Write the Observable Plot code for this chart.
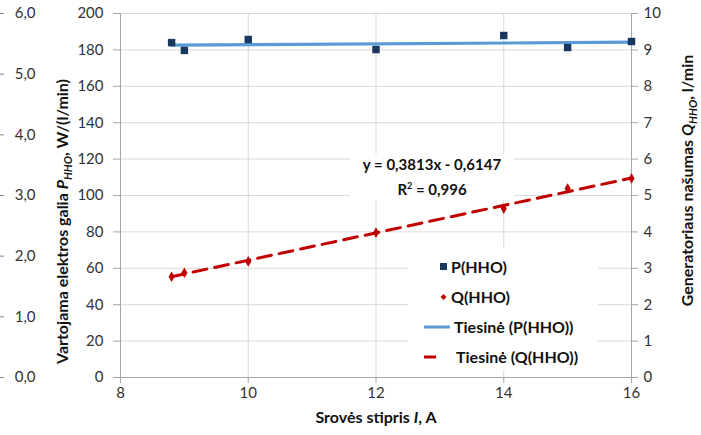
<!DOCTYPE html>
<html><head><meta charset="utf-8">
<script src="https://cdn.jsdelivr.net/npm/d3@7"></script>
<script src="https://cdn.jsdelivr.net/npm/@observablehq/plot@0.6"></script>
<style>
body{margin:0;background:#fff;font-family:Lato,"Open Sans",sans-serif;}
#wrap{position:relative;width:701px;height:435px;}
#legend{position:absolute;left:408px;top:248px;width:190px;height:122px;background:#fff;font:bold 16px Lato,sans-serif;color:#111;}
#legend .row{position:absolute;left:0;height:30px;line-height:30px;white-space:nowrap;}
#legend svg{position:absolute;top:0;}
#eq{position:absolute;left:350px;top:154px;width:164px;height:46px;background:#fff;font:bold 15px Lato,sans-serif;color:#111;text-align:center;line-height:21px;}
</style></head>
<body><div id="wrap"></div>
<script>
const currents = [8.8, 9, 10, 12, 14, 15, 16];
const powerP = [184, 179.7, 185.7, 180.2, 187.9, 181.3, 184.6];
const flowQ = [2.77, 2.88, 3.19, 3.98, 4.64, 5.19, 5.47];
const xTicks = [8, 10, 12, 14, 16];
const leftTicks = d3.range(0, 201, 20);
const ghostTicks = [0, 1, 2, 3, 4, 5, 6];
const eqLine1 = "y = 0,3813x - 0,6147";
const eqLine2 = "R² = 0,996";
const legendLabels = ["P(HHO)", "Q(HHO)", "Tiesinė (P(HHO))", "Tiesinė (Q(HHO))"];

const qScale = 20; // right axis 0-10 maps to left 0-200
const ghostScale = 200 / 6;

const data = currents.map((x, i) => ({x, p: powerP[i], q: flowQ[i] * qScale}));

const font = "Lato, sans-serif";
const tickColor = "#333";

const chart = Plot.plot({
  width: 701, height: 435,
  marginLeft: 120, marginRight: 70, marginTop: 13, marginBottom: 58,
  style: {fontFamily: font, fontSize: "15px", color: tickColor, background: "#fff"},
  x: {domain: [8, 16]},
  y: {domain: [0, 200]},
  marks: [
    Plot.gridY(leftTicks, {stroke: "#d9d9d9", strokeOpacity: 1}),
    Plot.gridX(xTicks, {stroke: "#d9d9d9", strokeOpacity: 1}),
    Plot.ruleY([0], {stroke: "#a6a6a6"}),
    Plot.ruleX([8], {stroke: "#a6a6a6"}),
    Plot.ruleX([16], {stroke: "#a6a6a6"}),
    Plot.axisY(leftTicks, {anchor: "left", tickSize: 7, tickPadding: 10, stroke: "#a6a6a6", fill: tickColor, label: null}),
    Plot.axisY(leftTicks, {anchor: "right", tickSize: 6, tickPadding: 6, stroke: "#a6a6a6", fill: tickColor, label: null, tickFormat: d => d / qScale}),
    Plot.axisX(xTicks, {anchor: "bottom", tickSize: 6, tickPadding: 4, stroke: "#a6a6a6", fill: tickColor, label: null}),
    Plot.axisY(ghostTicks.map(v => v * ghostScale), {anchor: "left", tickSize: 0, tickPadding: 85, fill: tickColor, label: null, tickFormat: d => (d / ghostScale).toFixed(1).replace(".", ",")}),
    Plot.axisY(ghostTicks.map(v => v * ghostScale), {anchor: "left", tickSize: 4, dx: -116, stroke: "#888", label: null, tickFormat: () => ""}),
    Plot.linearRegressionY(data, {x: "x", y: "p", stroke: "#5B9BD5", strokeWidth: 3.2, ci: 0}),
    Plot.dot(data, {x: "x", y: "p", symbol: "square", r: 4.2, fill: "#17375E", stroke: "none"}),
    Plot.dot(data, {x: "x", y: "q", symbol: "diamond", r: 3.2, fill: "#C00000", stroke: "none"}),
    Plot.linearRegressionY(data, {x: "x", y: "q", stroke: "#C00000", strokeWidth: 3, strokeDasharray: "14,8", ci: 0}),
    Plot.text(["__LEFT__"], {frameAnchor: "left", textAnchor: "middle", text: d => d, rotate: -90, dx: -58, dy: 26, fontWeight: "bold", fontSize: 16, fill: "#111"}),
    Plot.text(["__RIGHT__"], {frameAnchor: "right", textAnchor: "middle", text: d => d, rotate: -90, dx: 56, dy: -15, fontWeight: "bold", fontSize: 16, fill: "#111"}),
    Plot.text(["__BOTTOM__"], {frameAnchor: "bottom", textAnchor: "middle", text: d => d, dy: 45, fontWeight: "bold", fontSize: 16, fill: "#111"})
  ]
});

d3.select(chart).selectAll("text").each(function() {
  const t = d3.select(this);
  const s = t.text();
  if (s === "__LEFT__") {
    t.text("");
    t.append("tspan").text("Vartojama elektros galia ");
    t.append("tspan").attr("font-style", "italic").text("P");
    t.append("tspan").attr("font-style", "italic").attr("font-size", 11).attr("dy", 4).text("HHO");
    t.append("tspan").attr("dy", -4).text(", W/(l/min)");
  } else if (s === "__RIGHT__") {
    t.text("");
    t.append("tspan").text("Generatoriaus našumas ");
    t.append("tspan").attr("font-style", "italic").text("Q");
    t.append("tspan").attr("font-style", "italic").attr("font-size", 11).attr("dy", 4).text("HHO");
    t.append("tspan").attr("dy", -4).text(", l/min");
  } else if (s === "__BOTTOM__") {
    t.text("");
    t.append("tspan").text("Srovės stipris ");
    t.append("tspan").attr("font-style", "italic").text("I");
    t.append("tspan").text(", A");
  }
});

const wrap = document.getElementById("wrap");
wrap.appendChild(chart);

const eq = document.createElement("div");
eq.id = "eq";
eq.innerHTML = eqLine1 + "<br>" + "R<sup style='font-size:9px'>2</sup> = 0,996";
wrap.appendChild(eq);

const legend = document.createElement("div");
legend.id = "legend";
const markers = [
  `<svg width="20" height="30" style="left:26px"><rect x="6" y="11" width="7" height="7" fill="#17375E"/></svg>`,
  `<svg width="20" height="30" style="left:26px"><path d="M9.5 12 L12.5 15 L9.5 18 L6.5 15Z" fill="#C00000"/></svg>`,
  `<svg width="30" height="30" style="left:16px"><line x1="0" y1="15" x2="26" y2="15" stroke="#5B9BD5" stroke-width="3"/></svg>`,
  `<svg width="30" height="30" style="left:16px"><line x1="0" y1="15" x2="12" y2="15" stroke="#C00000" stroke-width="3"/></svg>`
];
const textLeft = [43, 43, 46, 48];
legendLabels.forEach((lab, i) => {
  const row = document.createElement("div");
  row.className = "row";
  row.style.top = (4 + i * 30) + "px";
  row.style.width = "190px";
  row.innerHTML = markers[i] + `<span style="position:absolute;left:${textLeft[i]}px">${lab}</span>`;
  legend.appendChild(row);
});
wrap.appendChild(legend);
</script>
</body></html>
